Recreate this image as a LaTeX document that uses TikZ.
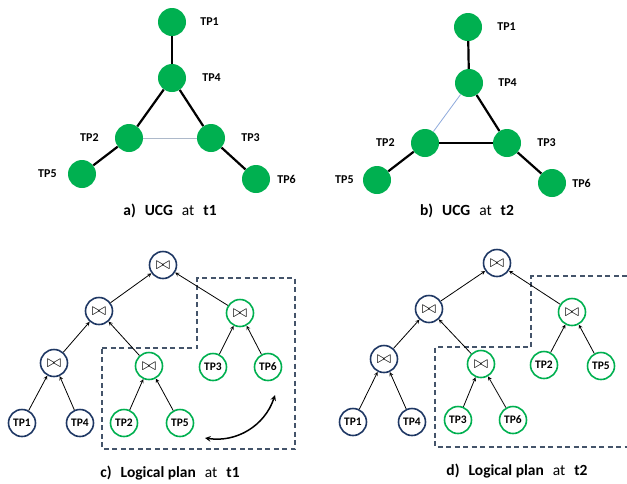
\documentclass[tikz,border=0pt]{standalone}
\usepackage{fontspec}
\setmainfont{Carlito}
\usepackage{tikz}
\usetikzlibrary{positioning,shapes,arrows}
\definecolor{Green}{RGB}{0,176,80}
\definecolor{Navy}{RGB}{31,56,100}
\definecolor{Slate}{RGB}{68,84,106}
\definecolor{Pale}{RGB}{173,185,202}
\definecolor{Paleblue}{RGB}{143,170,220}
\tikzstyle{vx}=[%
      circle, fill=Green, draw=none, minimum size=28pt, inner sep=0pt
]
\tikzstyle{lb}=[%
      font=\bfseries\fontsize{12}{14}\selectfont, inner sep=0pt
]
\tikzstyle{ed}=[%
      -, line width=2.2pt, draw=black
]
\tikzstyle{jn}=[%
      circle, draw=Navy, line width=1.6pt, fill=white, minimum size=27pt, inner sep=0pt,
      font=\bfseries\fontsize{11.5}{13}\selectfont
]
\tikzstyle{jg}=[jn, draw=Green]
\tikzstyle{box}=[%
      -, draw=Slate, line width=1.1pt, dash pattern=on 5pt off 3.5pt
]
\tikzstyle{captn}=[%
      font=\fontsize{15.5}{18}\selectfont, inner sep=0pt
]
\newcommand{\jo}{\scalebox{1.45}{$\bowtie$}}

\begin{document}
\begin{tikzpicture}[x=1pt, y=-1pt,
    ->,
    >=stealth
  ]
    \useasboundingbox (0,0) rectangle (627,483);

    % a) UCG at t1
    \node[vx] (a1) at (172,22)  {};
    \node[vx] (a4) at (172,78)  {};
    \node[vx] (a2) at (129,138) {};
    \node[vx] (a3) at (211,138) {};
    \node[vx] (a5) at (82,174)  {};
    \node[vx] (a6) at (256,179) {};
    \node[lb] [right = 14pt of a1] {TP1};
    \node[lb] [right = 16pt of a4] {TP4};
    \node[lb] [left = 16pt of a2]  {TP2};
    \node[lb] [right = 16pt of a3] {TP3};
    \node[lb] [left = 11pt of a5]  {TP5};
    \node[lb] [right = 7pt of a6]  {TP6};
    \path (a1) edge[ed] (a4)
          (a4) edge[ed] (a2)
          (a4) edge[ed] (a3)
          (a2) edge[-, Pale, line width=1pt] (a3)
          (a2) edge[ed] (a5)
          (a3) edge[ed] (a6)
    ;
    \node[captn] (capa) at (170,211) {\textbf{a)}\hspace{9pt}\textbf{UCG}\hspace{9pt}at\hspace{9pt}\textbf{t1}};

    % b) UCG at t2
    \node[vx] (b1) at (468,27)  {};
    \node[vx] (b4) at (469,83)  {};
    \node[vx] (b2) at (425,143) {};
    \node[vx] (b3) at (507,143) {};
    \node[vx] (b5) at (377,180) {};
    \node[vx] (b6) at (552,183) {};
    \node[lb] [right = 15pt of b1] {TP1};
    \node[lb] [right = 15pt of b4] {TP4};
    \node[lb] [left = 16pt of b2]  {TP2};
    \node[lb] [right = 16pt of b3] {TP3};
    \node[lb] [left = 9pt of b5]   {TP5};
    \node[lb] [right = 6pt of b6]  {TP6};
    \path (b1) edge[ed] (b4)
          (b4) edge[-, Paleblue, line width=0.8pt] (b2)
          (b4) edge[ed] (b3)
          (b2) edge[ed] (b3)
          (b2) edge[ed] (b5)
          (b3) edge[ed] (b6)
    ;
    \node[captn] (capb) at (467,211) {\textbf{b)}\hspace{9pt}\textbf{UCG}\hspace{9pt}at\hspace{9pt}\textbf{t2}};

    % c) Logical plan at t1
    \draw[box] (102,348) -- (197,348) -- (197,278) -- (295,278) -- (295,449) -- (102,449) -- cycle;
    \node[jn] (cr)  at (163,265) {\jo};
    \node[jn] (cj1) at (99,311)  {\jo};
    \node[jg] (cj2) at (240,313) {\jo};
    \node[jn] (cj3) at (54,363)  {\jo};
    \node[jg] (cj4) at (149,366) {\jo};
    \node[jg] (c3)  at (213,367) {TP3};
    \node[jg] (c6)  at (268,367) {TP6};
    \node[jn] (c1)  at (22,423)  {TP1};
    \node[jn] (c4)  at (80,423)  {TP4};
    \node[jg] (c2)  at (124,423) {TP2};
    \node[jg] (c5)  at (180,423) {TP5};
    \path[line width=0.8pt] (c1) edge (cj3)
          (c4) edge (cj3)
          (c2) edge (cj4)
          (c5) edge (cj4)
          (cj3) edge (cj1)
          (cj4) edge (cj1)
          (c3) edge (cj2)
          (c6) edge (cj2)
          (cj1) edge (cr)
          (cj2) edge (cr)
    ;
    \coordinate (sw1) at (205,438);
    \coordinate (sw2) at (275,395);
    \draw[<->, line width=1.5pt] (sw1) to[bend right=40] (sw2);
    \node[captn] (capc) at (170,473) {\textbf{c)}\hspace{9pt}\textbf{Logical plan}\hspace{9pt}at\hspace{9pt}\textbf{t1}};

    % d) Logical plan at t2
    \draw[box] (627,276) -- (531,276) -- (531,347) -- (435,347) -- (435,447) -- (627,447);
    \node[jn] (dr)  at (497,263) {\jo};
    \node[jn] (dj1) at (429,309) {\jo};
    \node[jg] (dj2) at (572,312) {\jo};
    \node[jn] (dj3) at (384,359) {\jo};
    \node[jg] (dj4) at (481,364) {\jo};
    \node[jg] (d2)  at (544,365) {TP2};
    \node[jg] (d5)  at (601,366) {TP5};
    \node[jn] (d1)  at (353,422) {TP1};
    \node[jn] (d4)  at (412,422) {TP4};
    \node[jg] (d3)  at (458,420) {TP3};
    \node[jg] (d6)  at (513,420) {TP6};
    \path[line width=0.8pt] (d1) edge (dj3)
          (d4) edge (dj3)
          (d3) edge (dj4)
          (d6) edge (dj4)
          (dj3) edge (dj1)
          (dj4) edge (dj1)
          (d2) edge (dj2)
          (d5) edge (dj2)
          (dj1) edge (dr)
          (dj2) edge (dr)
    ;
    \node[captn] (capd) at (517,471) {\textbf{d)}\hspace{9pt}\textbf{Logical plan}\hspace{9pt}at\hspace{9pt}\textbf{t2}};
\end{tikzpicture}
\end{document}
